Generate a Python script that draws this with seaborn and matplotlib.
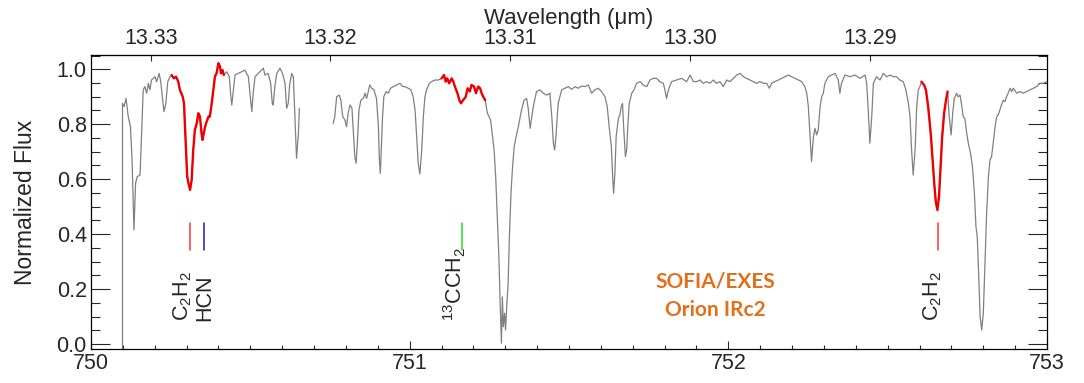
import numpy as np
import pandas as pd
import matplotlib
matplotlib.use("Agg")
import matplotlib.pyplot as plt
from matplotlib.ticker import MultipleLocator, FormatStrFormatter
import seaborn as sns

# ---------------- data ----------------
# wavenumber (cm^-1) and normalized flux, part before the gap
wn_a = [750.099, 750.099, 750.104, 750.110, 750.117, 750.124, 750.129, 750.135, 750.140, 750.145,
        750.154, 750.159, 750.164, 750.169, 750.175, 750.180, 750.185, 750.190, 750.201, 750.206,
        750.214, 750.219, 750.225, 750.229, 750.235, 750.241, 750.248, 750.253, 750.260, 750.267,
        750.274, 750.279, 750.288, 750.292, 750.296, 750.302, 750.306, 750.311, 750.316, 750.321,
        750.326, 750.332, 750.337, 750.342, 750.347, 750.350, 750.356, 750.361, 750.365, 750.369,
        750.373, 750.379, 750.384, 750.389, 750.394, 750.400, 750.405, 750.408, 750.413, 750.417,
        750.426, 750.434, 750.439, 750.442, 750.447, 750.452, 750.462, 750.473, 750.483, 750.494,
        750.501, 750.505, 750.509, 750.515, 750.525, 750.541, 750.546, 750.556, 750.564, 750.569,
        750.572, 750.577, 750.583, 750.593, 750.601, 750.609, 750.614, 750.619, 750.624, 750.630,
        750.635, 750.640, 750.645, 750.651, 750.654]
flux_a = [-0.02, 0.876, 0.864, 0.894, 0.828, 0.791, 0.670, 0.415, 0.585, 0.609,
          0.615, 0.767, 0.925, 0.937, 0.913, 0.949, 0.925, 0.961, 0.973, 0.955,
          0.985, 0.955, 0.888, 0.846, 0.876, 0.955, 0.973, 0.979, 0.967, 0.973,
          0.955, 0.925, 0.900, 0.876, 0.767, 0.609, 0.585, 0.561, 0.597, 0.706,
          0.779, 0.803, 0.840, 0.828, 0.767, 0.743, 0.779, 0.803, 0.815, 0.828,
          0.828, 0.876, 0.925, 0.973, 0.985, 1.022, 1.010, 0.985, 0.997, 0.979,
          0.991, 0.973, 0.900, 0.870, 0.925, 0.979, 0.985, 0.991, 0.997, 0.973,
          0.888, 0.846, 0.913, 0.973, 0.985, 1.004, 0.979, 0.985, 0.949, 0.876,
          0.870, 0.937, 0.985, 1.004, 0.985, 0.949, 0.858, 0.876, 0.949, 0.985,
          0.973, 0.828, 0.676, 0.767, 0.858]

# part after the gap
wn_b = [750.760, 750.765, 750.771, 750.779, 750.784, 750.790, 750.797, 750.802, 750.807, 750.813,
        750.819, 750.823, 750.828, 750.832, 750.836, 750.841, 750.847, 750.855, 750.860, 750.865,
        750.870, 750.875, 750.881, 750.888, 750.896, 750.902, 750.905, 750.908, 750.911, 750.915,
        750.919, 750.926, 750.933, 750.940, 750.949, 750.959, 750.970, 750.978, 750.985, 750.996,
        751.004, 751.011, 751.017, 751.022, 751.027, 751.032, 751.038, 751.043, 751.048, 751.053,
        751.062, 751.069, 751.080, 751.090, 751.100, 751.108, 751.113, 751.118, 751.124, 751.132,
        751.137, 751.142, 751.150, 751.156, 751.161, 751.168, 751.176, 751.182, 751.189, 751.194,
        751.202, 751.208, 751.215, 751.221, 751.226, 751.231, 751.237, 751.244, 751.249, 751.254,
        751.259, 751.265, 751.270, 751.275, 751.280, 751.284, 751.288, 751.291, 751.294, 751.298,
        751.301, 751.304, 751.309, 751.313, 751.318, 751.323, 751.328, 751.334, 751.341, 751.351,
        751.359, 751.367, 751.372, 751.378, 751.388, 751.398, 751.409, 751.419, 751.430, 751.440,
        751.446, 751.451, 751.455, 751.459, 751.466, 751.477, 751.487, 751.498, 751.508, 751.519,
        751.529, 751.540, 751.550, 751.561, 751.571, 751.581, 751.592, 751.602, 751.613, 751.620,
        751.626, 751.633, 751.637, 751.640, 751.644, 751.648, 751.655, 751.660, 751.664, 751.668,
        751.672, 751.677, 751.681, 751.685, 751.689, 751.697, 751.704, 751.712, 751.723, 751.733,
        751.744, 751.754, 751.765, 751.775, 751.785, 751.796, 751.801, 751.806, 751.812, 751.822,
        751.838, 751.853, 751.869, 751.880, 751.890, 751.901, 751.911, 751.921, 751.932, 751.942,
        751.953, 751.963, 751.974, 751.984, 751.995, 752.005, 752.016, 752.026, 752.037, 752.047,
        752.057, 752.068, 752.078, 752.089, 752.099, 752.110, 752.120, 752.129, 752.136, 752.146,
        752.157, 752.167, 752.178, 752.188, 752.199, 752.209, 752.220, 752.230, 752.240, 752.246,
        752.251, 752.256, 752.261, 752.267, 752.272, 752.277, 752.282, 752.288, 752.293, 752.298,
        752.303, 752.308, 752.314, 752.324, 752.335, 752.345, 752.350, 752.355, 752.366, 752.382,
        752.397, 752.413, 752.429, 752.434, 752.439, 752.444, 752.450, 752.455, 752.465, 752.476,
        752.486, 752.497, 752.507, 752.518, 752.528, 752.538, 752.549, 752.557, 752.565, 752.570,
        752.575, 752.580, 752.586, 752.591, 752.596, 752.601, 752.606, 752.614, 752.620, 752.627,
        752.635, 752.641, 752.646, 752.651, 752.656, 752.661, 752.666, 752.671, 752.677, 752.683,
        752.688, 752.693, 752.699, 752.704, 752.709, 752.716, 752.721, 752.727, 752.732, 752.737,
        752.742, 752.748, 752.753, 752.760, 752.766, 752.772, 752.777, 752.781, 752.785, 752.790,
        752.795, 752.800, 752.805, 752.810, 752.816, 752.821, 752.826, 752.831, 752.837, 752.842,
        752.847, 752.852, 752.857, 752.863, 752.868, 752.873, 752.878, 752.884, 752.889, 752.894,
        752.905, 752.915, 752.925, 752.936, 752.946, 752.957, 752.967, 752.978, 752.988, 752.999]
flux_b = [0.803, 0.828, 0.900, 0.906, 0.888, 0.828, 0.815, 0.791, 0.840, 0.870,
          0.858, 0.779, 0.682, 0.658, 0.731, 0.852, 0.888, 0.894, 0.913, 0.894,
          0.919, 0.943, 0.931, 0.925, 0.894, 0.791, 0.670, 0.621, 0.706, 0.828,
          0.900, 0.919, 0.913, 0.931, 0.937, 0.943, 0.949, 0.937, 0.937, 0.931,
          0.925, 0.900, 0.852, 0.755, 0.658, 0.619, 0.706, 0.828, 0.900, 0.925,
          0.949, 0.955, 0.961, 0.961, 0.967, 0.979, 0.955, 0.967, 0.949, 0.967,
          0.955, 0.937, 0.913, 0.888, 0.876, 0.888, 0.900, 0.931, 0.919, 0.943,
          0.937, 0.913, 0.937, 0.931, 0.913, 0.900, 0.888, 0.840, 0.828, 0.815,
          0.767, 0.706, 0.609, 0.464, 0.318, 0.148, 0.003, 0.172, 0.063, 0.112,
          0.051, 0.124, 0.221, 0.391, 0.549, 0.646, 0.718, 0.755, 0.791, 0.852,
          0.888, 0.894, 0.858, 0.785, 0.864, 0.919, 0.925, 0.913, 0.906, 0.913,
          0.828, 0.731, 0.706, 0.755, 0.876, 0.925, 0.931, 0.937, 0.927, 0.937,
          0.931, 0.939, 0.937, 0.943, 0.913, 0.925, 0.931, 0.919, 0.900, 0.864,
          0.791, 0.718, 0.609, 0.549, 0.621, 0.755, 0.822, 0.834, 0.864, 0.876,
          0.779, 0.682, 0.706, 0.803, 0.876, 0.913, 0.925, 0.949, 0.955, 0.943,
          0.937, 0.961, 0.967, 0.967, 0.955, 0.949, 0.925, 0.894, 0.925, 0.955,
          0.961, 0.967, 0.955, 0.979, 0.955, 0.955, 0.961, 0.949, 0.955, 0.949,
          0.961, 0.949, 0.955, 0.937, 0.961, 0.955, 0.967, 0.979, 0.985, 0.973,
          0.967, 0.961, 0.955, 0.949, 0.955, 0.949, 0.949, 0.931, 0.949, 0.955,
          0.961, 0.967, 0.973, 0.979, 0.973, 0.967, 0.961, 0.955, 0.937, 0.913,
          0.864, 0.767, 0.664, 0.755, 0.785, 0.761, 0.779, 0.864, 0.900, 0.913,
          0.949, 0.961, 0.973, 0.979, 0.985, 0.961, 0.913, 0.949, 0.979, 0.973,
          0.979, 0.967, 0.979, 0.949, 0.852, 0.731, 0.828, 0.949, 0.973, 0.961,
          0.985, 0.973, 0.979, 0.973, 0.973, 0.961, 0.955, 0.925, 0.876, 0.828,
          0.706, 0.615, 0.706, 0.864, 0.925, 0.937, 0.955, 0.943, 0.925, 0.864,
          0.767, 0.670, 0.585, 0.518, 0.488, 0.536, 0.646, 0.755, 0.840, 0.888,
          0.919, 0.828, 0.761, 0.840, 0.894, 0.913, 0.900, 0.906, 0.870, 0.828,
          0.822, 0.767, 0.731, 0.694, 0.646, 0.549, 0.427, 0.391, 0.269, 0.100,
          0.051, 0.112, 0.282, 0.464, 0.609, 0.670, 0.682, 0.731, 0.791, 0.828,
          0.834, 0.852, 0.870, 0.888, 0.882, 0.900, 0.913, 0.931, 0.919, 0.931,
          0.913, 0.919, 0.913, 0.919, 0.925, 0.931, 0.937, 0.949, 0.949, 0.955]

# wavenumber windows of the highlighted (red) features
red_windows = [(750.253, 750.417), (751.100, 751.237), (752.606, 752.688)]

# line identifications
line_labels = [r"C$_2$H$_2$", "HCN", r"$^{13}$CCH$_2$", r"C$_2$H$_2$"]
line_pos = [750.311, 750.354, 751.165, 752.657]
line_colors = ["#ff3333", "#1a1acc", "#22dd22", "#ff3333"]
label_pos = [750.289, 750.358, 751.142, 752.642]

top_ticks = [13.33, 13.32, 13.31, 13.30, 13.29]
top_tick_labels = ["13.33", "13.32", "13.31", "13.30", "13.29"]
bottom_ticks = [750, 751, 752, 753]

# ---------------- styling ----------------
sns.set_style("ticks")
plt.rcParams["font.family"] = ["Liberation Sans", "DejaVu Sans"]
plt.rcParams["mathtext.fontset"] = "custom"
plt.rcParams["mathtext.rm"] = "Liberation Sans"
plt.rcParams["mathtext.it"] = "Liberation Sans:italic"
plt.rcParams["mathtext.default"] = "regular"

fig = plt.figure(figsize=(10.84, 3.83), dpi=100)
ax = fig.add_axes([0.0839, 0.0888, 0.9659 - 0.0839, 0.8564 - 0.0888])

df_a = pd.DataFrame({"wn": wn_a, "flux": flux_a})
df_b = pd.DataFrame({"wn": wn_b, "flux": flux_b})
gray = "#808080"
for df in (df_a, df_b):
    sns.lineplot(data=df, x="wn", y="flux", ax=ax, color=gray, lw=0.9,
                 sort=False, estimator=None)
    for lo, hi in red_windows:
        sub = df[(df["wn"] >= lo) & (df["wn"] <= hi)]
        if len(sub) > 1:
            sns.lineplot(data=sub, x="wn", y="flux", ax=ax, color="#ee0000",
                         lw=1.7, sort=False, estimator=None)

# identification markers
for xp, c in zip(line_pos, line_colors):
    ax.plot([xp, xp], [0.342, 0.44], color=c, lw=1.1)
for lbl, xp in zip(line_labels, label_pos):
    ax.text(xp, 0.085, lbl, rotation=90, ha="center", va="bottom", fontsize=15.5)

ax.text(751.96, 0.227, "SOFIA/EXES", color="#e2701a", fontsize=15,
        fontweight="bold", family=["Lato", "DejaVu Sans"], ha="center", va="center")
ax.text(751.96, 0.124, "Orion IRc2", color="#e2701a", fontsize=15,
        fontweight="bold", family=["Lato", "DejaVu Sans"], ha="center", va="center")

ax.set_xlim(750, 753)
ax.set_ylim(-0.018, 1.052)
ax.set_xticks(bottom_ticks)
ax.set_xticklabels([str(t) for t in bottom_ticks])
ax.xaxis.set_minor_locator(MultipleLocator(0.1))
ax.yaxis.set_major_locator(MultipleLocator(0.2))
ax.yaxis.set_minor_locator(MultipleLocator(0.05))
ax.yaxis.set_major_formatter(FormatStrFormatter("%.1f"))
ax.set_xlabel("")
ax.set_ylabel("Normalized Flux", fontsize=16.5)
ax.yaxis.set_label_coords(-0.056, 0.5)

ax.tick_params(axis="y", which="major", direction="in", length=13.5, width=0.8,
               left=True, right=True, labelsize=15.5, pad=3)
ax.tick_params(axis="y", which="minor", direction="in", length=6.5, width=0.8,
               left=True, right=True)
ax.tick_params(axis="x", which="major", direction="in", length=6, width=0.8,
               bottom=True, top=False, labelsize=15.5, pad=3)
ax.tick_params(axis="x", which="minor", direction="in", length=3, width=0.8,
               bottom=True, top=False)
for s in ax.spines.values():
    s.set_linewidth(0.9)
    s.set_color("black")

secax = ax.secondary_xaxis("top", functions=(lambda x: 1e4 / x, lambda w: 1e4 / w))
secax.set_xticks(top_ticks)
secax.set_xticklabels(top_tick_labels)
secax.tick_params(axis="x", which="major", direction="in", length=4, width=0.8,
                  labelsize=15.5, pad=4)
secax.tick_params(axis="x", which="minor", length=0)
ax.text(0.5, 1.105, "Wavelength (\u03bcm)", transform=ax.transAxes,
        fontsize=16, ha="center", va="baseline")

fig.savefig("out.png", dpi=100)
